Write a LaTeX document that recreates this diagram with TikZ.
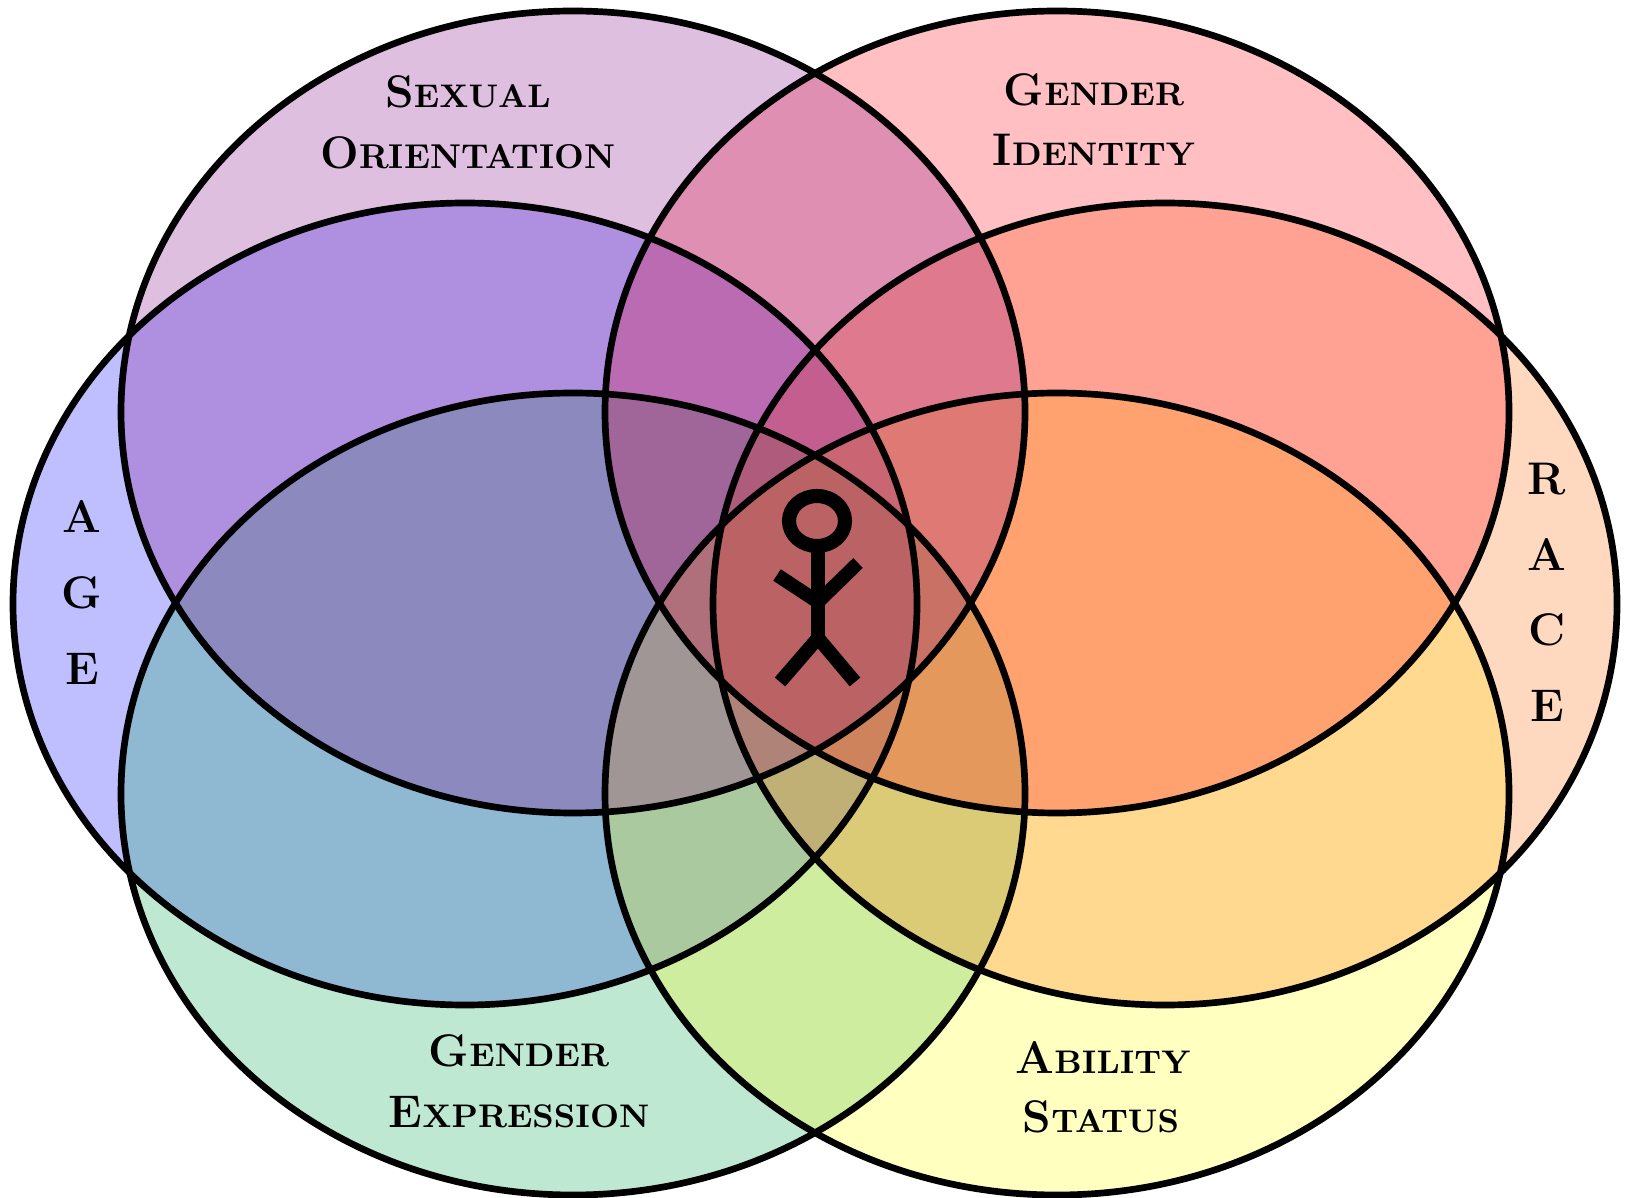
\documentclass[tikz,border=0pt]{standalone}
\usepackage{fontspec}
\usepackage{xcolor}
\usetikzlibrary{positioning}

\definecolor{orientcol}{RGB}{128,0,128}
\definecolor{identcol}{RGB}{255,0,16}
\definecolor{agecol}{RGB}{0,0,255}
\definecolor{racecol}{RGB}{255,104,0}
\definecolor{exprcol}{RGB}{0,166,80}
\definecolor{abilcol}{RGB}{255,255,0}

\newcommand{\capword}[2]{{\fontsize{13}{15}\selectfont #1}#2}

\tikzset{
  tint/.style={fill=#1, fill opacity=0.25},
  rim/.style={draw=black, line width=1.9pt},
  lab/.style={font=\fontsize{9.3}{12}\selectfont\bfseries, align=center, inner sep=0pt},
  letter/.style={font=\fontsize{13}{15}\selectfont\bfseries, inner sep=0pt},
  limb/.style={draw=black, line width=3.9pt}
}

\begin{document}
\begin{tikzpicture}[x=0.01cm, y=-0.01cm]
\useasboundingbox (0,0) rectangle (1628,1198);
\fill[white] (0,0) rectangle (1628,1198);

% colour fills
\fill[tint=agecol] (465,604) ellipse [x radius=452, y radius=401];
\fill[tint=exprcol] (573,794) ellipse [x radius=452, y radius=401];
\fill[tint=abilcol] (1057,794) ellipse [x radius=452, y radius=401];
\fill[tint=racecol] (1165,604) ellipse [x radius=452, y radius=401];
\fill[tint=identcol] (1057,412) ellipse [x radius=452, y radius=401];
\fill[tint=orientcol] (573,412) ellipse [x radius=452, y radius=401];

% outlines
\draw[rim] (465,604) ellipse [x radius=452, y radius=401];
\draw[rim] (573,794) ellipse [x radius=452, y radius=401];
\draw[rim] (1057,794) ellipse [x radius=452, y radius=401];
\draw[rim] (1165,604) ellipse [x radius=452, y radius=401];
\draw[rim] (1057,412) ellipse [x radius=452, y radius=401];
\draw[rim] (573,412) ellipse [x radius=452, y radius=401];

% labels
\node[lab] (sexual) at (468,92) {\capword{S}{EXUAL}};
\node[lab, font=\fontsize{9.8}{12}\selectfont\bfseries] (orient) at (468,153) {\capword{O}{RIENTATION}};
\node[lab] (gender1) at (1094,90) {\capword{G}{ENDER}};
\node[lab] (ident) at (1094,150) {\capword{I}{DENTITY}};
\node[lab] (gender2) at (519,1051) {\capword{G}{ENDER}};
\node[lab] (expr) at (519,1112) {\capword{E}{XPRESSION}};
\node[lab] (ability) at (1103,1057) {\capword{A}{BILITY}};
\node[lab] (status) at (1101,1117) {\capword{S}{TATUS}};

% vertical words
\node[letter] (A1) at (82,517) {A};
\node[letter] (G1) at (82,593) {G};
\node[letter] (E1) at (82,669) {E};
\node[letter] (R2) at (1547,479) {R};
\node[letter] (A2) at (1547,555) {A};
\node[letter] (C2) at (1547,630) {C};
\node[letter] (E2) at (1547,706) {E};

% stick figure
\draw[black, line width=4pt] (817,521) ellipse [x radius=28, y radius=25];
\coordinate (neck) at (818,546);
\coordinate (hip) at (818,638);
\coordinate (waist) at (818,602);
\draw[limb] (neck) -- (hip);
\draw[limb] (777,575) -- (waist) -- (858,563);
\draw[limb] (780,682) -- (hip) -- (855,682);
\end{tikzpicture}
\end{document}
